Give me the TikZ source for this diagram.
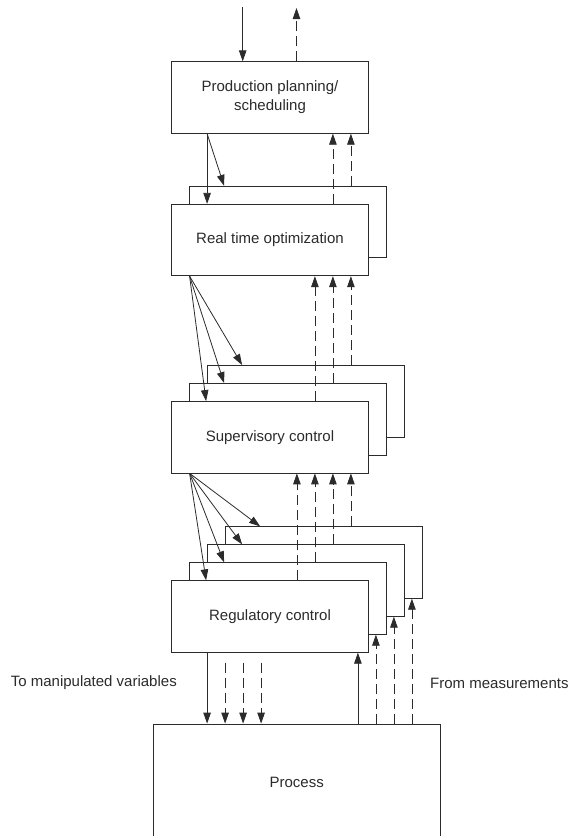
\documentclass[tikz,border=0pt]{standalone}
\usepackage{fontspec}
\setmainfont{Liberation Sans}
\usetikzlibrary{arrows.meta}
\definecolor{inkgray}{HTML}{2B2B2B}
\tikzstyle{layerbox} = [rectangle, minimum width=197pt, minimum height=71.5pt, inner sep=0pt, align=center, draw=inkgray, fill=white, line width=0.8pt, text=inkgray]
\tikzstyle{arrow} = [draw=inkgray, line width=0.8pt, -{Triangle[length=11pt,width=7.5pt]}]
\tikzstyle{dasharrow} = [arrow, dash pattern=on 10pt off 5pt]

\begin{document}
\begin{tikzpicture}[
  x=1pt, y=-1pt,
  every node/.style={font=\fontsize{15}{19}\selectfont}
]
\useasboundingbox (0,0) rectangle (569,836);

% hierarchy levels, back copies first
\node (prod) [layerbox] at (270,97.5) {Production planning/\\scheduling};

\node (rto2) [layerbox] at (288,222) {};
\node (rto) [layerbox] at (270,240) {Real time optimization};

\node (sup3) [layerbox] at (306,401.2) {};
\node (sup2) [layerbox] at (288,419.2) {};
\node (sup) [layerbox] at (270,437.2) {Supervisory control};

\node (reg4) [layerbox] at (324,562.5) {};
\node (reg3) [layerbox] at (306,580.5) {};
\node (reg2) [layerbox] at (288,598.5) {};
\node (reg) [layerbox] at (270,616.5) {Regulatory control};

\node (process) [layerbox, minimum width=286.7pt, minimum height=116pt] at (296.7,782) {Process};

\node (tomv) [anchor=east, inner sep=0pt, text=inkgray] at (177,683) {To manipulated variables};
\node (frommeas) [anchor=west, inner sep=0pt, text=inkgray] at (430,683) {From measurements};

\coordinate (plantin) at (242.7,7);
\coordinate (plantout) at (296.5,8);

% top
\draw [arrow] (plantin) -- (plantin |- prod.north);
\draw [dasharrow] (plantout |- prod.north) -- (plantout);

% planning <-> optimization
\draw [arrow] ([xshift=36pt]prod.south west) -- ([xshift=36pt]rto.north west);
\draw [arrow] ([xshift=36pt]prod.south west) -- ([xshift=35pt]rto2.north west);
\draw [dasharrow] ([xshift=-36pt]rto.north east) -- ([xshift=-36pt]rto.north east |- prod.south);
\draw [dasharrow] ([xshift=-36pt]rto2.north east) -- ([xshift=-36pt]rto2.north east |- prod.south);

% optimization <-> supervisory
\draw [arrow] ([xshift=18.5pt]rto.south west) -- ([xshift=35pt]sup.north west);
\draw [arrow] ([xshift=18.5pt]rto.south west) -- ([xshift=35pt]sup2.north west);
\draw [arrow] ([xshift=18.5pt]rto.south west) -- ([xshift=35pt]sup3.north west);
\draw [dasharrow] ([xshift=-54pt]sup.north east) -- ([xshift=-54pt]sup.north east |- rto.south);
\draw [dasharrow] ([xshift=-54pt]sup2.north east) -- ([xshift=-54pt]sup2.north east |- rto.south);
\draw [dasharrow] ([xshift=-54pt]sup3.north east) -- ([xshift=-54pt]sup3.north east |- rto.south);

% supervisory <-> regulatory
\draw [arrow] ([xshift=18.5pt]sup.south west) -- ([xshift=35pt]reg.north west);
\draw [arrow] ([xshift=18.5pt]sup.south west) -- ([xshift=35pt]reg2.north west);
\draw [arrow] ([xshift=18.5pt]sup.south west) -- ([xshift=35pt]reg3.north west);
\draw [arrow] ([xshift=18.5pt]sup.south west) -- ([xshift=35pt]reg4.north west);
\draw [dasharrow] ([xshift=-72pt]reg.north east) -- ([xshift=-72pt]reg.north east |- sup.south);
\draw [dasharrow] ([xshift=-72pt]reg2.north east) -- ([xshift=-72pt]reg2.north east |- sup.south);
\draw [dasharrow] ([xshift=-72pt]reg3.north east) -- ([xshift=-72pt]reg3.north east |- sup.south);
\draw [dasharrow] ([xshift=-72pt]reg4.north east) -- ([xshift=-72pt]reg4.north east |- sup.south);

% regulatory <-> process
\draw [arrow] ([xshift=36pt]reg.south west) -- ([xshift=36pt]reg.south west |- process.north);
\draw [dasharrow] ([xshift=36pt]reg2.south west |- reg.south) ++(0,10) -- ([xshift=36pt]reg2.south west |- process.north);
\draw [dasharrow] ([xshift=36pt]reg3.south west |- reg.south) ++(0,10) -- ([xshift=36pt]reg3.south west |- process.north);
\draw [dasharrow] ([xshift=36pt]reg4.south west |- reg.south) ++(0,10) -- ([xshift=36pt]reg4.south west |- process.north);
\draw [arrow] ([xshift=-11pt]reg.south east |- process.north) -- ([xshift=-11pt]reg.south east);
\draw [dasharrow] ([xshift=-11pt]reg2.south east |- process.north) -- ([xshift=-11pt]reg2.south east);
\draw [dasharrow] ([xshift=-11pt]reg3.south east |- process.north) -- ([xshift=-11pt]reg3.south east);
\draw [dasharrow] ([xshift=-11pt]reg4.south east |- process.north) -- ([xshift=-11pt]reg4.south east);

\end{tikzpicture}
\end{document}
